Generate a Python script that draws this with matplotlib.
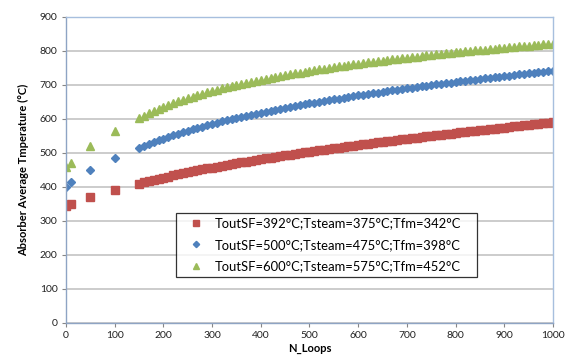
import matplotlib
matplotlib.use("Agg")
import matplotlib.pyplot as plt

# N_Loops: a few sparse points, then every 10 loops from 150 to 1000
n_sparse = [1, 10, 50, 100]
n_dense = list(range(150, 1001, 10))
n_loops = n_sparse + n_dense

t_392 = [345, 351, 371, 391,
         410.0, 413.7, 417.3, 420.9, 424.3, 427.6, 430.8, 434.0, 437.1, 440.1,
         443.1, 446.0, 448.9, 451.7, 454.4, 457.1, 459.8, 462.4, 465.0, 467.5,
         470.0, 472.5, 474.9, 477.3, 479.7, 482.0, 484.3, 486.6, 488.9, 491.1,
         493.3, 495.5, 497.6, 499.8, 501.9, 504.0, 506.0, 508.1, 510.1, 512.1,
         514.1, 516.1, 518.0, 520.0, 521.9, 523.8, 525.7, 527.5, 529.4, 531.2,
         533.1, 534.9, 536.7, 538.5, 540.3, 542.0, 543.8, 545.5, 547.2, 548.9,
         550.6, 552.3, 554.0, 555.7, 557.3, 559.0, 560.6, 562.3, 563.9, 565.5,
         567.1, 568.7, 570.2, 571.8, 573.4, 574.9, 576.5, 578.0, 579.5, 581.0,
         582.6, 584.1, 585.6, 587.1, 588.5, 590.0]

t_500 = [401, 415, 450, 485,
         514.0, 520.2, 526.2, 531.8, 537.2, 542.4, 547.4, 552.2, 556.8, 561.3,
         565.6, 569.8, 573.9, 577.9, 581.7, 585.4, 589.1, 592.7, 596.1, 599.5,
         602.9, 606.1, 609.3, 612.4, 615.5, 618.5, 621.4, 624.3, 627.2, 629.9,
         632.7, 635.4, 638.0, 640.7, 643.2, 645.8, 648.3, 650.7, 653.1, 655.5,
         657.9, 660.2, 662.5, 664.8, 667.0, 669.3, 671.4, 673.6, 675.8, 677.9,
         679.9, 682.0, 684.1, 686.1, 688.1, 690.1, 692.0, 694.0, 695.9, 697.8,
         699.7, 701.5, 703.4, 705.2, 707.0, 708.8, 710.6, 712.4, 714.1, 715.9,
         717.6, 719.3, 721.0, 722.7, 724.3, 726.0, 727.6, 729.3, 730.9, 732.5,
         734.1, 735.7, 737.2, 738.8, 740.3, 741.9]

t_600 = [458, 471, 522, 566,
         602.0, 609.5, 616.5, 623.1, 629.4, 635.3, 641.0, 646.4, 651.5, 656.4,
         661.2, 665.7, 670.1, 674.3, 678.3, 682.3, 686.1, 689.7, 693.3, 696.8,
         700.1, 703.4, 706.6, 709.6, 712.6, 715.6, 718.4, 721.2, 724.0, 726.6,
         729.2, 731.8, 734.3, 736.7, 739.1, 741.4, 743.7, 746.0, 748.2, 750.3,
         752.5, 754.5, 756.6, 758.6, 760.6, 762.5, 764.4, 766.3, 768.2, 770.0,
         771.8, 773.6, 775.3, 777.0, 778.7, 780.4, 782.0, 783.6, 785.2, 786.8,
         788.4, 789.9, 791.4, 792.9, 794.4, 795.8, 797.3, 798.7, 800.1, 801.5,
         802.9, 804.2, 805.6, 806.9, 808.2, 809.5, 810.8, 812.0, 813.3, 814.5,
         815.7, 817.0, 818.2, 819.3, 820.5, 821.7]

labels = [
    "ToutSF=392°C;Tsteam=375°C;Tfm=342°C",
    "ToutSF=500°C;Tsteam=475°C;Tfm=398°C",
    "ToutSF=600°C;Tsteam=575°C;Tfm=452°C",
]

plt.rcParams["font.family"] = ["Lato", "DejaVu Sans"]

fig = plt.figure(figsize=(5.67, 3.63), dpi=100, facecolor="white")
ax = fig.add_axes([0.1164, 0.1102, 0.8589, 0.843])

ax.plot(n_loops, t_392, ls="none", marker="s", ms=5.2, color="#c0504d", label=labels[0])
ax.plot(n_loops, t_500, ls="none", marker="D", ms=4.0, color="#4f81bd", label=labels[1])
ax.plot(n_loops, t_600, ls="none", marker="^", ms=5.6, color="#9bbb59", label=labels[2])

ax.set_xlim(0, 1000)
ax.set_ylim(0, 900)
ax.set_xticks(range(0, 1001, 100))
ax.set_yticks(range(0, 901, 100))
ax.yaxis.grid(True, color="#bfbfbf", lw=1.1)
ax.set_axisbelow(True)
ax.tick_params(labelsize=7.5, length=3, color="#868686", colors="#222222", pad=3)

for side in ("top", "right"):
    ax.spines[side].set_color("#a7bfde")
for side in ("left", "bottom"):
    ax.spines[side].set_color("#8ea4c4")
for sp in ax.spines.values():
    sp.set_linewidth(1.0)

ax.set_xlabel("N_Loops", fontsize=8, fontweight="bold", labelpad=2)
ax.set_ylabel("Absorber Average Tmperature (°C)", fontsize=8, fontweight="bold", labelpad=8)

# legend box spans a fixed width (Excel style), entries left aligned
leg = ax.legend(loc="upper left", bbox_to_anchor=(0.2259, 0.0, 0.618, 0.3595),
                mode="expand", fontsize=9.4, frameon=True, fancybox=False,
                edgecolor="black", handlelength=2.4, handletextpad=0.2,
                labelspacing=0.72, borderpad=0.35, borderaxespad=0,
                markerscale=0.8)
leg.get_frame().set_linewidth(0.9)

fig.savefig("out.png", dpi=100, facecolor="white")
